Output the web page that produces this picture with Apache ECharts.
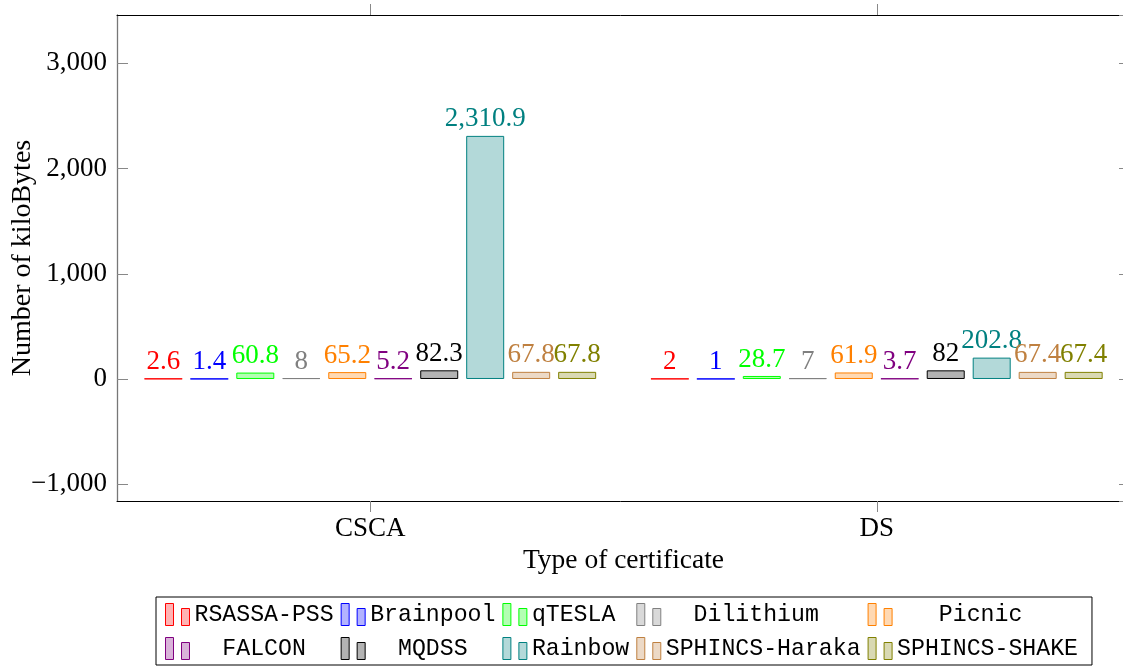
<!DOCTYPE html>
<html>
<head>
<meta charset="utf-8">
<script src="https://cdn.jsdelivr.net/npm/echarts@6/dist/echarts.min.js"></script>
<style>
html,body{margin:0;padding:0;background:#fff;}
#chart{width:1123px;height:671px;}
</style>
</head>
<body>
<div id="chart"></div>
<script>
// ---- data ----
var categories = ['CSCA', 'DS'];
var seriesNames = ['RSASSA-PSS', 'Brainpool', 'qTESLA', 'Dilithium', 'Picnic',
                   'FALCON', 'MQDSS', 'Rainbow', 'SPHINCS-Haraka', 'SPHINCS-SHAKE'];
var cscaValues = [2.6, 1.4, 60.8, 8, 65.2, 5.2, 82.3, 2310.9, 67.8, 67.8];
var dsValues   = [2, 1, 28.7, 7, 61.9, 3.7, 82, 202.8, 67.4, 67.4];
var yTicks = [-1000, 0, 1000, 2000, 3000];

// ---- styles ----
var lineColors = ['#ff0000', '#0000ff', '#00ff00', '#808080', '#ff8000',
                  '#800080', '#000000', '#008080', '#bf8040', '#808000'];
var fillColors = ['#ffb3b3', '#b3b3ff', '#b3ffb3', '#d9d9d9', '#ffd9b3',
                  '#d9b3d9', '#b3b3b3', '#b3d9d9', '#ecd9c6', '#d9d9b3'];

var serif = 'Liberation Serif, Times New Roman, serif';
var mono = 'Liberation Mono, DejaVu Sans Mono, monospace';

function fmtNum(v) {
  var s = Math.abs(v).toLocaleString('en-US', {maximumFractionDigits: 1});
  return (v < 0 ? '\u2212' : '') + s;
}

// legend padding so that columns are centered (monospace)
var nCols = 5;
function padName(name) {
  var i = seriesNames.indexOf(name);
  var c = i % nCols;
  var w = Math.max(seriesNames[c].length, seriesNames[c + nCols].length);
  var extra = w - name.length;
  var left = Math.floor(extra / 2);
  var right = extra - left;
  return new Array(left + 1).join(' ') + name + new Array(right + 1).join(' ');
}

var series = seriesNames.map(function (name, i) {
  return {
    name: name,
    type: 'bar',
    xAxisIndex: 0,
    yAxisIndex: 0,
    barWidth: 38,
    barGap: '21%',
    data: [cscaValues[i], dsValues[i]],
    itemStyle: {color: fillColors[i], borderColor: lineColors[i], borderWidth: 1},
    label: {
      show: true,
      position: 'top',
      distance: 3,
      color: lineColors[i],
      fontFamily: serif,
      fontSize: 27,
      formatter: function (p) { return fmtNum(p.value); }
    },
    emphasis: {disabled: true}
  };
});

var chart = echarts.init(document.getElementById('chart'), null, {renderer: 'canvas'});
chart.setOption({
  animation: false,
  backgroundColor: '#ffffff',
  grid: {left: 117, top: 15, width: 1013, height: 486, containLabel: false, outerBoundsMode: 'none'},
  legend: {
    data: seriesNames,
    left: 156,
    top: 597,
    width: 920,
    orient: 'horizontal',
    padding: [4, 14, 3, 9],
    itemGap: 7,
    itemWidth: 24,
    itemHeight: 22,
    icon: 'path://M0,0H8V22H0Z M16,5H24V22H16Z',
    borderColor: '#000',
    borderWidth: 1,
    selectedMode: false,
    formatter: padName,
    itemStyle: {borderWidth: 1},
    textStyle: {fontFamily: mono, fontSize: 23.2, color: '#000', lineHeight: 27}
  },
  xAxis: [{
    type: 'category',
    data: categories,
    position: 'bottom',
    name: 'Type of certificate',
    nameLocation: 'middle',
    nameGap: 46,
    nameMoveOverlap: false,
    nameTextStyle: {fontFamily: serif, fontSize: 27.5, color: '#000'},
    axisLine: {show: true, onZero: false, lineStyle: {color: '#000', width: 1}},
    axisTick: {show: true, alignWithLabel: true, inside: false, length: 11, lineStyle: {color: '#888', width: 1}},
    axisLabel: {fontFamily: serif, fontSize: 27, color: '#000', margin: 14},
    splitLine: {show: false}
  }, {
    type: 'category',
    data: categories,
    position: 'top',
    axisLine: {show: true, onZero: false, lineStyle: {color: '#000', width: 1}},
    axisTick: {show: true, alignWithLabel: true, inside: false, length: 11, lineStyle: {color: '#888', width: 1}},
    axisLabel: {show: false},
    splitLine: {show: false}
  }],
  yAxis: [{
    type: 'value',
    min: -1160,
    max: 3460,
    splitNumber: 5,
    position: 'left',
    name: 'Number of kiloBytes',
    nameLocation: 'middle',
    nameGap: 80,
    nameMoveOverlap: false,
    nameTextStyle: {fontFamily: serif, fontSize: 28, color: '#000'},
    axisLine: {show: true, onZero: false, lineStyle: {color: '#777', width: 1.3}},
    axisTick: {show: true, inside: true, length: 11, lineStyle: {color: '#888', width: 1}},
    axisLabel: {
      fontFamily: serif, fontSize: 27, color: '#000', margin: 10,
      showMinLabel: false, showMaxLabel: false,
      formatter: function (v) { return yTicks.indexOf(v) >= 0 ? fmtNum(v) : ''; }
    },
    splitLine: {show: false}
  }, {
    type: 'value',
    min: -1160,
    max: 3460,
    splitNumber: 5,
    position: 'right',
    axisLine: {show: true, onZero: false, lineStyle: {color: '#777', width: 1.3}},
    axisTick: {show: true, inside: true, length: 11, lineStyle: {color: '#888', width: 1}},
    axisLabel: {show: false},
    splitLine: {show: false}
  }],
  series: series
});
</script>
</body>
</html>
